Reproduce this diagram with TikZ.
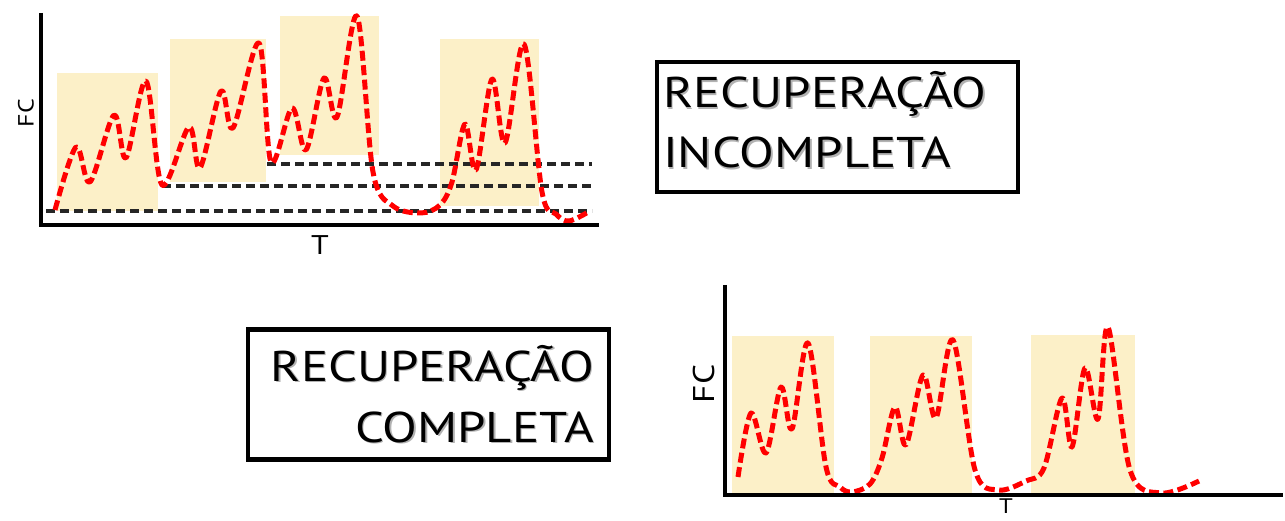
\documentclass[tikz,border=0pt]{standalone}
\usepackage{fontspec}
\setmainfont{PT Sans}
\newfontfamily\widefont[FakeStretch=1.18]{PT Sans}
\definecolor{boxfill}{RGB}{252,240,200}
\definecolor{curvered}{RGB}{255,0,0}
\newcommand\shtext[1]{\leavevmode\rlap{\kern1.6pt\raisebox{-1.6pt}{\color{black!30}#1}}#1}
\tikzset{
  hbox/.style={fill=boxfill, draw=none},
  axisline/.style={line width=4.5pt, black},
  refline/.style={line width=3.2pt, black!85, dash pattern=on 9pt off 5pt},
  fccurve/.style={line width=5pt, curvered, dash pattern=on 10pt off 4.5pt, line join=round},
  frame/.style={draw, line width=4.5pt, minimum width=#1, minimum height=130pt, inner sep=0pt},
  bigtext/.style={font=\widefont\fontsize{43}{43}\selectfont, inner sep=0pt},
  axlabel/.style={font=\widefont\fontsize{#1}{#1}\selectfont, inner sep=0pt},
}
\begin{document}
\begin{tikzpicture}[x=1pt,y=-1pt]
\useasboundingbox[fill=white] (0,0) rectangle (1285,521);

% ---------------- top chart ----------------
\fill[hbox] (57,73) rectangle (158,211);
\fill[hbox] (170,39) rectangle (266,182);
\fill[hbox] (280,16) rectangle (379,155);
\fill[hbox] (440,39) rectangle (539,206);

\coordinate (r1a) at (46,211);  \coordinate (r1b) at (592,211);
\coordinate (r2a) at (162,186); \coordinate (r2b) at (592,186);
\coordinate (r3a) at (267,164); \coordinate (r3b) at (592,164);
\draw[refline] (r1a) -- (r1b);
\draw[refline] (r2a) -- (r2b);
\draw[refline] (r3a) -- (r3b);

\draw[fccurve] plot[smooth, tension=0.55] coordinates {
 (55,210) (76,147) (90,182) (114,115) (126,158) (146,81) (162,185)
 (189,127) (200,168) (221,91) (233,128) (259,43) (271,162)
 (292,108) (306,150) (324,78) (337,117) (357,16)
 (373,172) (393,206) (421,213) (440,205) (452,182)
 (465,124) (476,170) (492,79) (505,143) (524,44)
 (542,192) (556,214) (569,221) (590,211)};

\coordinate (o1) at (41,225);
\coordinate (y1) at (41,13);
\coordinate (x1) at (599,225);
\draw[axisline] (y1) -- (o1) -- (x1);
\node[axlabel=22, rotate=90] (fc1) at (26,113) {FC};
\node[axlabel=27] (t1) at (320,245) {T};

% ---------------- bottom chart ----------------
\fill[hbox] (732,336) rectangle (834,494);
\fill[hbox] (870,336) rectangle (972,494);
\fill[hbox] (1031,335) rectangle (1135,494);

\draw[fccurve] plot[smooth, tension=0.55] coordinates {
 (738,477) (751,413) (766,453) (781,387) (792,429) (808,343)
 (826,467) (840,487) (852,492) (870,484) (882,458)
 (895,407) (906,445) (923,375) (936,418) (953,340)
 (975,470) (998,490) (1026,481) (1044,468)
 (1062,398) (1072,447) (1085,368) (1098,419) (1108,327)
 (1130,470) (1161,493) (1199,481)};

\coordinate (o2) at (725,495);
\coordinate (y2) at (725,285);
\coordinate (x2) at (1283,495);
\draw[axisline] (y2) -- (o2) -- (x2);
\node[axlabel=30, rotate=90] (fc2) at (704,384) {FC};
\node[axlabel=21, anchor=north] (t2) at (1006,499) {T};

% ---------------- text boxes ----------------
\node[frame=361pt] (f1) at (837.5,127) {};
\node[bigtext, anchor=base west] (l1a) at (663,108) {\shtext{RECUPERAÇÃO}};
\node[bigtext, anchor=base west] (l1b) at (663,168) {\shtext{INCOMPLETA}};

\node[frame=361pt] (f2) at (428.5,394.5) {};
\node[bigtext, anchor=base east] (l2a) at (594,381) {\shtext{RECUPERAÇÃO}};
\node[bigtext, anchor=base east] (l2b) at (594,442) {\shtext{COMPLETA}};
\end{tikzpicture}
\end{document}
